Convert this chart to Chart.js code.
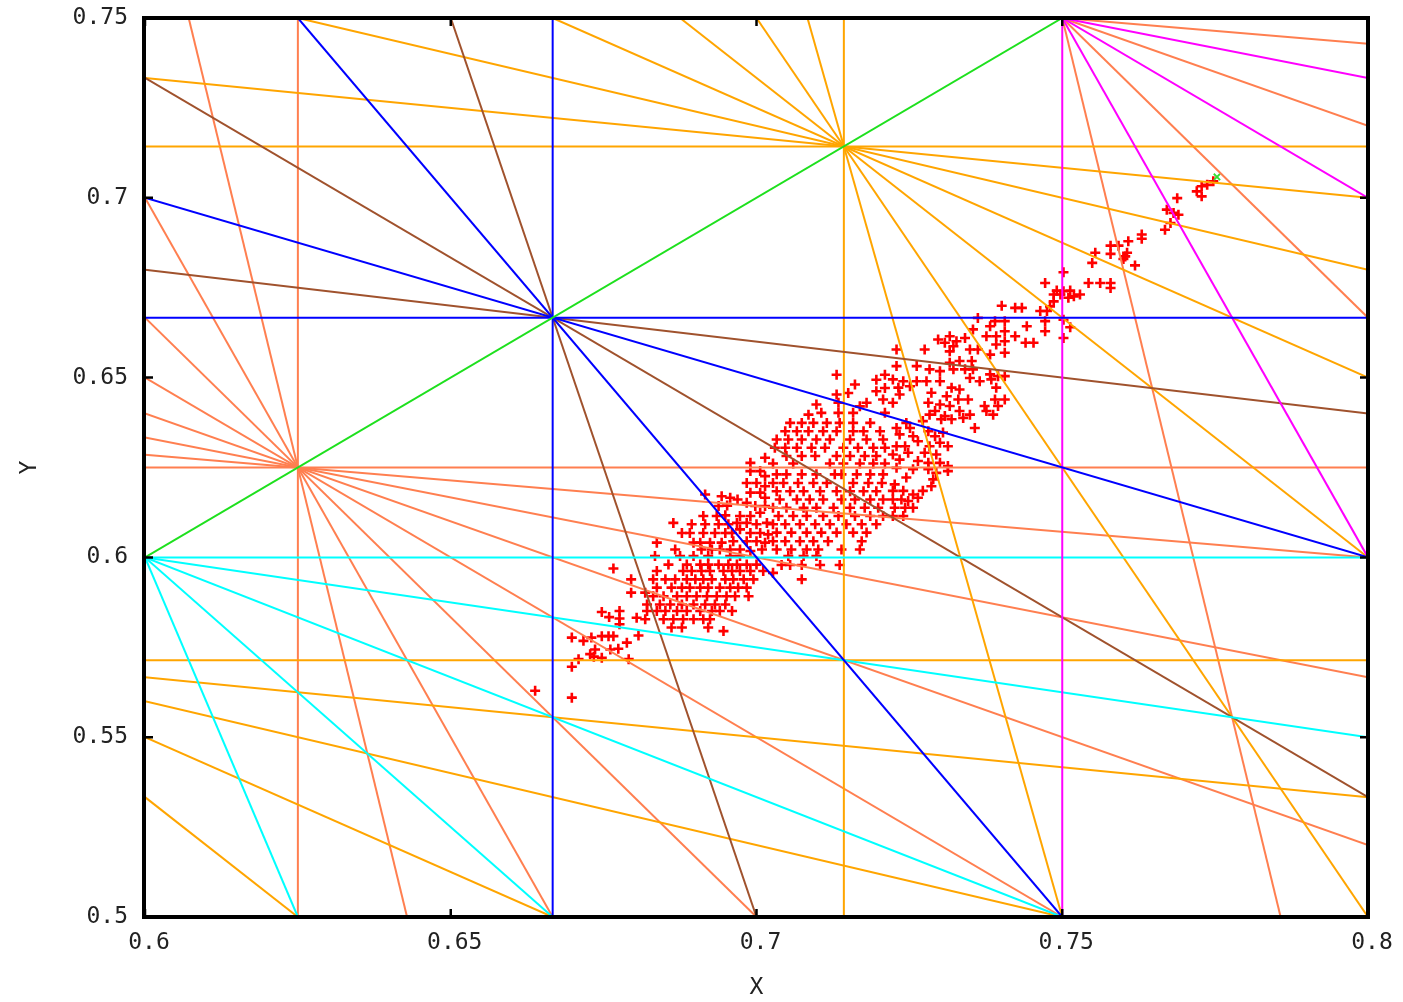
<!DOCTYPE html>
<html>
<head>
<meta charset="utf-8">
<title>Tune diagram</title>
<script src="https://cdn.jsdelivr.net/npm/chart.js@4.4.1/dist/chart.umd.min.js"></script>
<style>
  html, body { margin: 0; padding: 0; background: #fff; }
  #wrap { width: 1403px; height: 1002px; }
</style>
</head>
<body>
<div id="wrap"><canvas id="tuneChart" width="1403" height="1002"></canvas></div>
<script>
// axis ranges and tick labels
const xRange = [0.6, 0.8];
const yRange = [0.5, 0.75];
const xTicks = [0.6, 0.65, 0.7, 0.75, 0.8];
const yTicks = [0.5, 0.55, 0.6, 0.65, 0.7, 0.75];

// resonance lines m*Qx + n*Qy = p, grouped by order
const order2 = [[1, -1, 0]];
const order3 = [[3, 0, 2], [0, 3, 2], [1, 2, 2], [2, 1, 2]];
const order4 = [[4, 0, 3], [1, 3, 3], [3, 1, 3], [2, 2, 3]];
const order5 = [[0, 5, 3], [1, 4, 3], [2, 3, 3], [3, 2, 3], [4, 1, 3]];
const order6 = [[1, 5, 4], [3, 3, 4], [5, 1, 4]];
const order7 = [[7, 0, 5], [0, 7, 4], [0, 7, 5], [1, 6, 4], [1, 6, 5], [2, 5, 4], [2, 5, 5],
                [3, 4, 4], [3, 4, 5], [4, 3, 4], [4, 3, 5], [5, 2, 5], [6, 1, 5]];
const order8 = [[8, 0, 5], [0, 8, 5], [1, 7, 5], [1, 7, 6], [2, 6, 5], [3, 5, 5], [3, 5, 6],
                [4, 4, 5], [5, 3, 5], [5, 3, 6], [6, 2, 5], [7, 1, 5], [7, 1, 6]];
const orderLines = [order2, order3, order4, order5, order6, order7, order8];
const orderColours = ['#1ee01e', '#0000ff', '#ff00ff', '#00ffff', '#a0522d', '#ffa500', '#ff7f50'];

// tracked tunes (Qx, Qy)
const tunes = [
  [0.6766,0.5969],[0.6795,0.5939],[0.6795,0.5902],[0.6747,0.5848],[0.6759,0.5834],[0.6776,0.5851],
  [0.6776,0.5830],[0.6776,0.5814],[0.6804,0.5832],[0.6821,0.5869],[0.6821,0.5851],[0.6818,0.5828],
  [0.6818,0.5902],[0.6698,0.5777],[0.6717,0.5768],[0.6730,0.5777],[0.6747,0.5781],[0.6758,0.5781],
  [0.6766,0.5781],[0.6788,0.5763],[0.6761,0.5744],[0.6774,0.5746],[0.6736,0.5744],[0.6728,0.5731],
  [0.6734,0.5724],[0.6747,0.5721],[0.6709,0.5717],[0.6791,0.5717],[0.6698,0.5696],[0.6807,0.5783],
  [0.6638,0.5629],[0.6698,0.5610],
  [0.6990,0.6263],[0.7014,0.6277],[0.6990,0.6240],[0.7006,0.6240],[0.7014,0.6226],[0.6984,0.6207],
  [0.7000,0.6207],[0.7014,0.6198],[0.6990,0.6180],[0.7006,0.6180],[0.7014,0.6166],[0.6984,0.6152],
  [0.6998,0.6143],[0.7014,0.6143],[0.6973,0.6115],[0.6990,0.6115],[0.7006,0.6124],[0.6968,0.6096],
  [0.6984,0.6096],[0.7000,0.6092],[0.7017,0.6096],[0.6960,0.6068],[0.6973,0.6078],[0.6990,0.6068],
  [0.7006,0.6068],[0.7019,0.6064],[0.6962,0.6045],[0.6984,0.6045],[0.7000,0.6045],[0.7014,0.6041],
  [0.6957,0.6022],[0.6973,0.6022],[0.6990,0.6018],[0.7009,0.6022],
  [0.6916,0.6175],[0.6943,0.6170],[0.6957,0.6166],[0.6969,0.6161],[0.6938,0.6143],[0.6952,0.6144],
  [0.6913,0.6115],[0.6935,0.6115],[0.6949,0.6117],[0.6864,0.6096],[0.6894,0.6092],[0.6916,0.6092],
  [0.6938,0.6092],[0.6954,0.6092],[0.6878,0.6068],[0.6891,0.6068],[0.6913,0.6068],[0.6932,0.6068],
  [0.6949,0.6068],[0.6837,0.6041],[0.6897,0.6041],[0.6908,0.6041],[0.6924,0.6041],[0.6943,0.6041],
  [0.6867,0.6022],[0.6910,0.6022],[0.6927,0.6022],[0.6940,0.6022],[0.6834,0.6004],[0.6875,0.6004],
  [0.6897,0.6004],[0.6921,0.6004],[0.6957,0.6004],[0.6973,0.6004],
  [0.6856,0.5980],[0.6886,0.5980],[0.6908,0.5980],[0.6921,0.5980],[0.6938,0.5980],[0.6954,0.5980],
  [0.6968,0.5980],[0.6984,0.5980],[0.7000,0.5980],
  [0.6837,0.5962],[0.6880,0.5962],[0.6894,0.5962],[0.6910,0.5962],[0.6924,0.5962],[0.6946,0.5962],
  [0.6960,0.5962],[0.6973,0.5962],[0.6990,0.5962],[0.7011,0.5962],
  [0.6831,0.5939],[0.6851,0.5939],[0.6867,0.5939],[0.6886,0.5939],[0.6900,0.5939],[0.6913,0.5939],
  [0.6927,0.5939],[0.6949,0.5939],[0.6962,0.5939],[0.6979,0.5939],[0.6995,0.5939],
  [0.6837,0.5916],[0.6861,0.5916],[0.6878,0.5916],[0.6891,0.5916],[0.6908,0.5916],[0.6921,0.5916],
  [0.6940,0.5916],[0.6957,0.5916],[0.6970,0.5916],[0.6984,0.5916],
  [0.6831,0.5892],[0.6848,0.5892],[0.6870,0.5892],[0.6886,0.5892],[0.6902,0.5892],[0.6919,0.5892],
  [0.6935,0.5892],[0.6951,0.5892],[0.6965,0.5892],[0.6987,0.5892],
  [0.6842,0.5869],[0.6859,0.5869],[0.6878,0.5869],[0.6897,0.5869],[0.6916,0.5869],[0.6932,0.5869],
  [0.6949,0.5869],
  [0.6837,0.5851],[0.6851,0.5851],[0.6870,0.5851],[0.6886,0.5851],[0.6908,0.5851],[0.6927,0.5851],
  [0.6940,0.5851],[0.6960,0.5851],
  [0.6848,0.5828],[0.6864,0.5828],[0.6880,0.5828],[0.6897,0.5828],[0.6913,0.5828],[0.6924,0.5828],
  [0.6861,0.5805],[0.6878,0.5805],[0.6921,0.5805],[0.6946,0.5795],
  [0.7131,0.6508],[0.7161,0.6481],[0.7196,0.6494],[0.7210,0.6508],[0.7131,0.6453],[0.7150,0.6457],
  [0.7196,0.6462],[0.7210,0.6471],[0.7180,0.6430],[0.7207,0.6439],[0.7098,0.6425],[0.7134,0.6430],
  [0.7169,0.6420],[0.7106,0.6402],[0.7085,0.6397],[0.7134,0.6402],[0.7158,0.6402],[0.7210,0.6402],
  [0.7055,0.6374],[0.7074,0.6374],[0.7093,0.6374],[0.7115,0.6374],[0.7136,0.6374],[0.7158,0.6374],
  [0.7186,0.6374],
  [0.7047,0.6351],[0.7066,0.6351],[0.7085,0.6351],[0.7109,0.6351],[0.7131,0.6351],[0.7158,0.6351],
  [0.7175,0.6351],[0.7202,0.6351],
  [0.7033,0.6328],[0.7052,0.6328],[0.7074,0.6328],[0.7098,0.6328],[0.7120,0.6328],[0.7153,0.6328],
  [0.7180,0.6328],[0.7207,0.6328],
  [0.7030,0.6305],[0.7047,0.6305],[0.7066,0.6305],[0.7090,0.6305],[0.7112,0.6305],[0.7142,0.6305],
  [0.7166,0.6305],[0.7191,0.6305],[0.7210,0.6305],
  [0.7049,0.6282],[0.7074,0.6282],[0.7096,0.6282],[0.7131,0.6282],[0.7153,0.6282],[0.7177,0.6282],
  [0.7196,0.6282],
  [0.7027,0.6261],[0.7060,0.6261],[0.7120,0.6261],[0.7142,0.6261],[0.7169,0.6261],[0.7191,0.6261],
  [0.7210,0.6261],
  [0.7033,0.6231],[0.7049,0.6231],[0.7074,0.6231],[0.7098,0.6231],[0.7128,0.6231],[0.7139,0.6231],
  [0.7164,0.6231],[0.7186,0.6231],[0.7207,0.6231],
  [0.7027,0.6207],[0.7044,0.6207],[0.7068,0.6207],[0.7093,0.6207],[0.7115,0.6207],[0.7158,0.6207],
  [0.7183,0.6207],[0.7205,0.6207],
  [0.7033,0.6184],[0.7055,0.6184],[0.7077,0.6184],[0.7104,0.6184],[0.7131,0.6184],[0.7153,0.6184],
  [0.7175,0.6184],[0.7196,0.6184],
  [0.7038,0.6161],[0.7066,0.6161],[0.7087,0.6161],[0.7109,0.6161],[0.7139,0.6161],[0.7161,0.6161],
  [0.7186,0.6161],[0.7207,0.6161],
  [0.7027,0.6138],[0.7049,0.6138],[0.7077,0.6138],[0.7098,0.6138],[0.7126,0.6138],[0.7153,0.6138],
  [0.7177,0.6138],[0.7199,0.6138],
  [0.7036,0.6115],[0.7060,0.6115],[0.7082,0.6115],[0.7109,0.6115],[0.7134,0.6115],[0.7161,0.6115],
  [0.7186,0.6115],[0.7207,0.6115],
  [0.7027,0.6092],[0.7047,0.6092],[0.7071,0.6092],[0.7096,0.6092],[0.7120,0.6092],[0.7147,0.6092],
  [0.7172,0.6092],[0.7196,0.6092],
  [0.7033,0.6069],[0.7057,0.6069],[0.7082,0.6069],[0.7106,0.6069],[0.7131,0.6069],[0.7158,0.6069],
  [0.7180,0.6069],
  [0.7027,0.6045],[0.7047,0.6045],[0.7071,0.6045],[0.7093,0.6045],[0.7117,0.6045],[0.7172,0.6045],
  [0.7033,0.6022],[0.7057,0.6022],[0.7082,0.6022],[0.7101,0.6022],[0.7139,0.6022],[0.7169,0.6022],
  [0.7052,0.6004],[0.7077,0.6004],[0.7098,0.6004],
  [0.7041,0.5979],[0.7055,0.5979],[0.7074,0.5979],[0.7104,0.5979],[0.7136,0.5979],
  [0.7027,0.5957],[0.7074,0.5939],
  [0.7401,0.6700],[0.7362,0.6666],[0.7390,0.6657],[0.7406,0.6657],[0.7382,0.6643],[0.7354,0.6634],
  [0.7406,0.6629],[0.7297,0.6606],[0.7316,0.6615],[0.7327,0.6601],[0.7341,0.6610],[0.7308,0.6597],
  [0.7322,0.6587],[0.7376,0.6615],[0.7392,0.6615],[0.7406,0.6601],[0.7229,0.6578],[0.7275,0.6578],
  [0.7316,0.6573],[0.7349,0.6578],[0.7362,0.6578],[0.7392,0.6592],[0.7382,0.6564],[0.7406,0.6569],
  [0.7316,0.6541],[0.7332,0.6546],[0.7352,0.6546],[0.7229,0.6532],[0.7262,0.6532],[0.7283,0.6523],
  [0.7300,0.6518],[0.7322,0.6523],[0.7341,0.6523],[0.7354,0.6523],[0.7382,0.6509],[0.7395,0.6504],
  [0.7406,0.6504],[0.7223,0.6495],[0.7240,0.6490],[0.7262,0.6490],[0.7278,0.6490],[0.7300,0.6490],
  [0.7349,0.6499],[0.7365,0.6490],[0.7384,0.6495],[0.7232,0.6472],[0.7251,0.6476],[0.7319,0.6472],
  [0.7332,0.6467],[0.7392,0.6472],[0.7234,0.6453],[0.7286,0.6458],[0.7311,0.6448],[0.7330,0.6439],
  [0.7346,0.6439],[0.7390,0.6439],[0.7406,0.6439],[0.7223,0.6430],[0.7281,0.6430],[0.7300,0.6425],
  [0.7316,0.6421],[0.7373,0.6421],[0.7395,0.6421],[0.7292,0.6407],[0.7332,0.6407],[0.7283,0.6397],
  [0.7308,0.6393],[0.7349,0.6397],[0.7376,0.6407],[0.7387,0.6397],[0.7245,0.6374],[0.7272,0.6379],
  [0.7302,0.6384],[0.7319,0.6384],[0.7338,0.6388],[0.7229,0.6360],[0.7251,0.6360],[0.7357,0.6360],
  [0.7281,0.6351],[0.7305,0.6347],[0.7234,0.6342],[0.7256,0.6337],[0.7292,0.6337],[0.7229,0.6309],
  [0.7264,0.6323],[0.7283,0.6309],[0.7300,0.6319],[0.7313,0.6309],[0.7243,0.6309],[0.7223,0.6286],
  [0.7248,0.6291],[0.7275,0.6291],[0.7294,0.6286],[0.7234,0.6272],[0.7264,0.6268],[0.7281,0.6263],
  [0.7300,0.6263],[0.7313,0.6254],[0.7229,0.6249],[0.7256,0.6245],[0.7281,0.6245],[0.7294,0.6235],
  [0.7313,0.6240],[0.7245,0.6222],[0.7289,0.6217],[0.7226,0.6203],[0.7223,0.6185],[0.7240,0.6185],
  [0.7256,0.6175],[0.7272,0.6185],[0.7286,0.6198],[0.7223,0.6161],[0.7237,0.6161],[0.7248,0.6157],
  [0.7264,0.6166],[0.7226,0.6138],[0.7243,0.6138],[0.7256,0.6138],[0.7223,0.6115],[0.7240,0.6115],
  [0.7728,0.7032],[0.7720,0.7018],[0.7728,0.7004],[0.7737,0.7036],[0.7747,0.7046],[0.7688,0.6999],
  [0.7671,0.6967],[0.7682,0.6958],[0.7690,0.6953],[0.7677,0.6930],[0.7668,0.6911],[0.7630,0.6898],
  [0.7630,0.6886],[0.7608,0.6879],[0.7579,0.6867],[0.7592,0.6867],[0.7554,0.6847],[0.7579,0.6844],
  [0.7606,0.6847],[0.7603,0.6837],[0.7600,0.6830],[0.7549,0.6819],[0.7619,0.6812],[0.7502,0.6793],
  [0.7472,0.6763],[0.7543,0.6763],[0.7562,0.6763],[0.7579,0.6763],[0.7579,0.6749],[0.7491,0.6742],
  [0.7502,0.6740],[0.7513,0.6742],[0.7486,0.6731],[0.7497,0.6731],[0.7519,0.6726],[0.7529,0.6731],
  [0.7510,0.6722],[0.7486,0.6712],[0.7480,0.6698],[0.7423,0.6694],[0.7434,0.6694],[0.7464,0.6685],
  [0.7475,0.6685],[0.7472,0.6657],[0.7502,0.6661],[0.7442,0.6643],[0.7513,0.6640],[0.7472,0.6629],
  [0.7423,0.6615],[0.7440,0.6597],[0.7453,0.6597],[0.7502,0.6610]
];
// final tune, marked separately
const finalTune = [[0.7753, 0.7058]];

// endpoints of m*x + n*y = p inside the plotted window
function clipLine(m, n, p) {
  const eps = 1e-9;
  const pts = [];
  if (n !== 0) {
    for (const x of xRange) {
      const y = (p - m * x) / n;
      if (y >= yRange[0] - eps && y <= yRange[1] + eps) pts.push({ x, y });
    }
  }
  if (m !== 0) {
    for (const y of yRange) {
      const x = (p - n * y) / m;
      if (x >= xRange[0] - eps && x <= xRange[1] + eps) pts.push({ x, y });
    }
  }
  pts.sort((a, b) => a.x - b.x || a.y - b.y);
  return pts.length >= 2 ? [pts[0], pts[pts.length - 1]] : [];
}

const datasets = [];
orderLines.forEach((lines, i) => {
  lines.forEach(([m, n, p]) => {
    datasets.push({
      type: 'scatter',
      data: clipLine(m, n, p),
      showLine: true,
      borderColor: orderColours[i],
      borderWidth: 2,
      pointRadius: 0,
      order: 0
    });
  });
});
datasets.push({
  type: 'scatter',
  data: finalTune.map(([x, y]) => ({ x, y })),
  pointStyle: 'crossRot',
  pointRadius: 4.5,
  borderColor: '#33dd33',
  borderWidth: 1.8,
  order: 1
});
datasets.push({
  type: 'scatter',
  data: tunes.map(([x, y]) => ({ x, y })),
  pointStyle: 'cross',
  pointRadius: 5,
  borderColor: '#ff0000',
  backgroundColor: '#ff0000',
  borderWidth: 2.6,
  order: 2
});

// black frame with small inward tick marks on all four sides
const framePlugin = {
  id: 'frame',
  afterDatasetsDraw(chart) {
    const { ctx, chartArea: a, scales } = chart;
    ctx.save();
    ctx.strokeStyle = '#000';
    ctx.lineWidth = 2.5;
    const len = 8;
    xTicks.forEach(v => {
      const px = scales.x.getPixelForValue(v);
      ctx.beginPath();
      ctx.moveTo(px, a.bottom); ctx.lineTo(px, a.bottom - len);
      ctx.moveTo(px, a.top); ctx.lineTo(px, a.top + len);
      ctx.stroke();
    });
    yTicks.forEach(v => {
      const py = scales.y.getPixelForValue(v);
      ctx.beginPath();
      ctx.moveTo(a.left, py); ctx.lineTo(a.left + len, py);
      ctx.moveTo(a.right, py); ctx.lineTo(a.right - len, py);
      ctx.stroke();
    });
    ctx.lineWidth = 4;
    ctx.strokeRect(a.left - 1, a.top, a.right - a.left + 1, a.bottom - a.top);
    ctx.restore();
  }
};

const tickFont = { family: "'DejaVu Sans Mono', monospace", size: 23 };
const fmt = v => String(Math.round(v * 100) / 100);

new Chart(document.getElementById('tuneChart'), {
  type: 'scatter',
  data: { datasets },
  options: {
    responsive: false,
    devicePixelRatio: 1,
    animation: false,
    layout: { padding: { left: 0, top: 18, right: 35, bottom: 0 } },
    plugins: { legend: { display: false }, tooltip: { enabled: false } },
    scales: {
      x: {
        type: 'linear',
        min: xRange[0],
        max: xRange[1],
        afterBuildTicks: s => { s.ticks = xTicks.map(value => ({ value })); },
        afterFit: s => { s.height = 85; s.paddingLeft = 0; s.paddingRight = 0; },
        grid: { display: false, drawTicks: false },
        border: { display: false },
        ticks: { font: tickFont, color: '#222', padding: 12, labelOffset: 4, maxRotation: 0, callback: fmt },
        title: { display: true, text: 'X', font: tickFont, color: '#222', padding: { top: 0, bottom: 0 } }
      },
      y: {
        type: 'linear',
        min: yRange[0],
        max: yRange[1],
        afterBuildTicks: s => { s.ticks = yTicks.map(value => ({ value })); },
        afterFit: s => { s.width = 145; s.paddingTop = 0; s.paddingBottom = 0; },
        grid: { display: false, drawTicks: false },
        border: { display: false },
        ticks: { font: tickFont, color: '#222', padding: 17, callback: fmt },
        title: { display: true, text: 'Y', font: tickFont, color: '#222', padding: { top: 16, bottom: 0 } }
      }
    }
  },
  plugins: [framePlugin]
});
</script>
</body>
</html>
